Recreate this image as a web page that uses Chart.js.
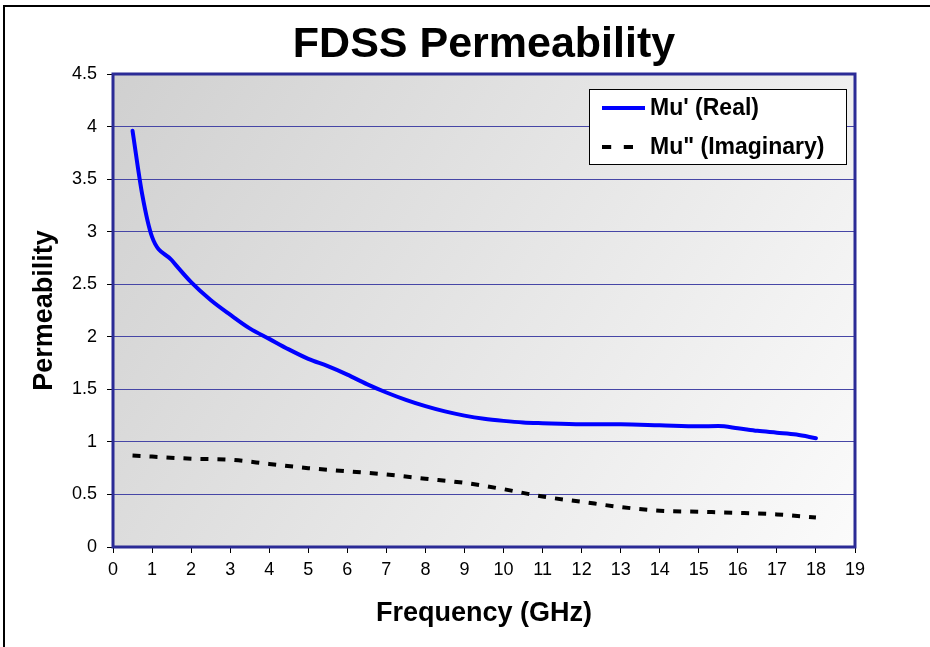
<!DOCTYPE html>
<html>
<head>
<meta charset="utf-8">
<script src="https://cdn.jsdelivr.net/npm/chart.js@4/dist/chart.umd.min.js"></script>
<style>
  body { margin: 0; background: #fff; }
  #wrap { width: 930px; height: 647px; }
</style>
</head>
<body>
<div id="wrap"><canvas id="perm" width="930" height="647"></canvas></div>
<script>
// frequency in GHz
var freqReal = [0.5, 0.75, 1, 1.5, 2, 2.5, 3, 3.5, 4, 4.5, 5, 5.5, 6, 6.5, 7, 7.5, 8, 8.5, 9, 9.5, 10, 10.5, 11, 12, 13, 14, 15, 15.5, 16, 16.5, 17, 17.5, 18];
var muReal = [3.96, 3.35, 2.95, 2.73, 2.52, 2.35, 2.21, 2.08, 1.98, 1.88, 1.79, 1.72, 1.64, 1.55, 1.47, 1.40, 1.34, 1.29, 1.25, 1.22, 1.20, 1.185, 1.178, 1.168, 1.167, 1.158, 1.148, 1.15, 1.13, 1.105, 1.088, 1.07, 1.035];
var freqImag = [0.5, 1, 2, 3, 4, 5, 6, 7, 8, 9, 10, 11, 12, 13, 14, 15, 16, 17, 18];
var muImag = [0.87, 0.86, 0.84, 0.83, 0.79, 0.75, 0.72, 0.69, 0.65, 0.61, 0.55, 0.48, 0.43, 0.38, 0.345, 0.335, 0.325, 0.31, 0.28];
var yTicks = [0, 0.5, 1, 1.5, 2, 2.5, 3, 3.5, 4, 4.5];

function pairs(xs, ys) {
    return xs.map(function (x, i) { return { x: x, y: ys[i] }; });
}

Chart.defaults.font.family = '"Liberation Sans", Arial, sans-serif';
Chart.defaults.color = '#000';

// gray gradient behind the plot, frame round the page, legend in the corner
var backdrop = {
    id: 'backdrop',
    beforeDraw: function (chart) {
        var c = chart.ctx, a = chart.chartArea;
        c.save();
        c.fillStyle = '#fff';
        c.fillRect(0, 0, chart.width, chart.height);
        c.strokeStyle = '#000';
        c.lineWidth = 2;
        c.beginPath();
        c.moveTo(4, chart.height);
        c.lineTo(4, 6);
        c.lineTo(chart.width, 6);
        c.stroke();
        var g = c.createLinearGradient(a.left, a.top, a.right, a.bottom);
        g.addColorStop(0, '#d0d0d0');
        g.addColorStop(1, '#fbfbfb');
        c.fillStyle = g;
        c.fillRect(a.left, a.top, a.right - a.left, a.bottom - a.top);
        c.restore();
    },
    afterDraw: function (chart) {
        var c = chart.ctx, a = chart.chartArea;
        c.save();
        c.strokeStyle = '#2b2b96';
        c.lineWidth = 3;
        c.strokeRect(a.left, a.top, a.right - a.left, a.bottom - a.top);

        var bx = 589, by = 89, bw = 257, bh = 75;
        c.fillStyle = '#fff';
        c.fillRect(bx, by, bw, bh);
        c.strokeStyle = '#000';
        c.lineWidth = 1;
        c.strokeRect(bx + 0.5, by + 0.5, bw, bh);
        c.font = 'bold 23px "Liberation Sans", Arial, sans-serif';
        c.textBaseline = 'middle';
        chart.data.datasets.forEach(function (ds, i) {
            var y = by + 19 + i * 39;
            var dash = (ds.borderDash || []).map(function (d, k) { return k % 2 ? d * 1.4 : d * 1.15; });
            c.strokeStyle = ds.borderColor;
            c.lineWidth = ds.borderWidth;
            c.setLineDash(dash);
            c.beginPath();
            c.moveTo(bx + 13, y);
            c.lineTo(bx + (dash.length ? 45 : 56), y);
            c.stroke();
            c.setLineDash([]);
            c.fillStyle = '#000';
            c.fillText(ds.label, bx + 61, y + 1);
        });
        c.restore();
    }
};

new Chart(document.getElementById('perm').getContext('2d'), {
    type: 'line',
    data: {
        datasets: [{
            label: "Mu' (Real)",
            data: pairs(freqReal, muReal),
            borderColor: '#0000ff',
            borderWidth: 4,
            pointRadius: 0,
            cubicInterpolationMode: 'monotone',
            borderCapStyle: 'round'
        }, {
            label: 'Mu" (Imaginary)',
            data: pairs(freqImag, muImag),
            borderColor: '#000',
            borderWidth: 4,
            borderDash: [8, 9],
            pointRadius: 0,
            cubicInterpolationMode: 'monotone'
        }]
    },
    options: {
        responsive: false,
        animation: false,
        devicePixelRatio: 1,
        layout: { padding: { left: 0, right: 75, top: 0, bottom: 0 } },
        plugins: {
            legend: { display: false },
            tooltip: { enabled: false },
            title: {
                display: true,
                text: 'FDSS Permeability',
                fullSize: false,
                font: { size: 43, weight: 'bold' },
                padding: { top: 19, bottom: 3.4 }
            }
        },
        scales: {
            x: {
                type: 'linear',
                min: 0,
                max: 19,
                afterFit: function (s) { s.height = 100; },
                ticks: { stepSize: 1, autoSkip: false, maxRotation: 0, font: { size: 18 }, padding: 6 },
                grid: { drawOnChartArea: false, tickLength: 6, tickColor: '#000' },
                border: { display: false },
                title: {
                    display: true,
                    text: 'Frequency (GHz)',
                    font: { size: 27, weight: 'bold' },
                    padding: { bottom: 17 }
                }
            },
            y: {
                min: 0,
                max: 4.5,
                afterFit: function (s) { s.width = 113; },
                afterBuildTicks: function (s) { s.ticks = yTicks.map(function (v) { return { value: v }; }); },
                ticks: {
                    font: { size: 18 },
                    padding: 10,
                    callback: function (v) { return String(v); }
                },
                grid: { color: '#4646a6', lineWidth: 1, tickLength: 6, tickColor: '#000' },
                border: { display: false },
                title: {
                    display: true,
                    text: 'Permeability',
                    font: { size: 27, weight: 'bold' },
                    padding: { top: 28 }
                }
            }
        }
    },
    plugins: [backdrop]
});
</script>
</body>
</html>
